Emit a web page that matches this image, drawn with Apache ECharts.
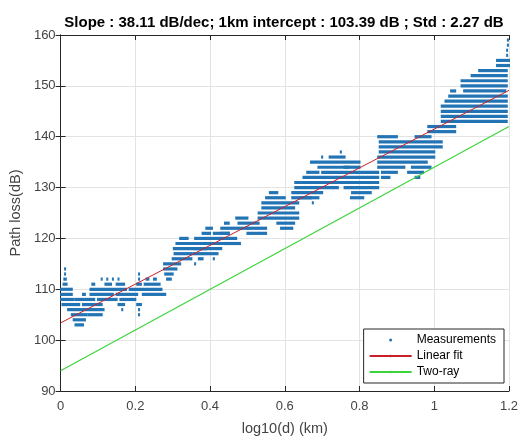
<!DOCTYPE html>
<html>
<head>
<meta charset="utf-8">
<script src="https://cdn.jsdelivr.net/npm/echarts@6/dist/echarts.min.js"></script>
<style>html,body{margin:0;padding:0;background:#fff;}#c{width:529px;height:441px;}</style>
</head>
<body>
<div id="c"></div>
<script>
// ---- data ----
const titleText = 'Slope : 38.11 dB/dec; 1km intercept : 103.39 dB ; Std : 2.27 dB';
const xTicks = [0, 0.2, 0.4, 0.6, 0.8, 1, 1.2];
const yTicks = [90, 100, 110, 120, 130, 140, 150, 160];
// Measurements: horizontal runs of points [x start, x end, path loss dB]
const measLow = [
  [0.012,0.012,114],[0.012,0.012,113],[0.01,0.014,112],[0.008,0.016,111],
  [0.0,0.03,110],[0.0,0.03,109],[0.0,0.035,108],[0.005,0.05,107],
  [0.06,0.09,107],[0.02,0.1,106],[0.03,0.07,105],[0.075,0.11,105],[0.035,0.065,104],[0.04,0.06,103],
  [0.06,0.065,109],[0.04,0.09,108],[0.095,0.11,107],[0.105,0.115,106],
  [0.08,0.175,110],[0.185,0.27,110],[0.08,0.14,109],[0.15,0.205,109],[0.22,0.28,109],
  [0.1,0.15,108],[0.16,0.2,108],
  [0.11,0.11,112],[0.125,0.125,112],[0.14,0.14,112],[0.155,0.155,112],[0.085,0.09,111],[0.12,0.135,111],[0.15,0.17,111],
  [0.155,0.17,107],[0.165,0.165,106],
  [0.21,0.21,113],[0.21,0.21,112],[0.205,0.215,111],[0.205,0.215,107],[0.21,0.21,106],[0.21,0.21,105],
  [0.23,0.235,112],[0.25,0.255,112],[0.225,0.265,111],
  [0.277,0.32,115],[0.36,0.36,115],[0.277,0.31,114],[0.28,0.3,113],[0.285,0.295,112],
  [0.303,0.39,118],[0.36,0.43,118],[0.305,0.35,117],[0.355,0.42,117],[0.3,0.35,116],[0.37,0.38,116],[0.41,0.41,116],
  [0.31,0.44,119],[0.32,0.34,120],[0.36,0.43,120],[0.38,0.4,121],[0.41,0.45,121],[0.39,0.405,122]
];
const measMid = [
  [0.43,0.5,122],[0.5,0.55,122],[0.43,0.45,121],[0.5,0.55,121],[0.43,0.47,120],[0.44,0.48,119],
  [0.44,0.45,123],[0.476,0.53,123],[0.58,0.625,123],[0.47,0.5,124],[0.53,0.636,124],
  [0.53,0.636,125],[0.54,0.625,126],[0.54,0.636,127],[0.675,0.675,127],[0.55,0.6,128],[0.62,0.67,128],[0.56,0.58,129],
  [0.628,0.742,131],[0.628,0.742,130],[0.62,0.7,129],[0.64,0.69,128],[0.59,0.62,122],
  [0.66,0.69,133],[0.7,0.85,133],[0.65,0.85,132],[0.69,0.77,134],[0.76,0.8,134],[0.67,0.8,135],
  [0.7,0.7,136],[0.72,0.76,136],[0.75,0.75,137],
  [0.742,0.85,131],[0.76,0.85,130],[0.78,0.83,129],[0.777,0.81,128]
];
const measHigh = [
  [0.85,0.9,140],[0.854,1.02,139],[0.854,1.02,138],[0.854,1.0,137],[0.85,1.0,136],[0.85,0.98,135],
  [0.85,0.92,134],[0.94,0.99,134],[0.86,0.9,133],[0.93,0.97,133],[0.86,0.88,132],[0.95,0.96,132],
  [0.984,1.056,142],[0.984,1.056,141],[0.95,0.99,140],
  [1.02,1.194,143],[1.02,1.194,144],[1.02,1.194,145],[1.02,1.194,146],[1.03,1.194,147],[1.04,1.194,148],
  [1.045,1.056,149],[1.08,1.19,149],
  [1.073,1.194,150],[1.073,1.194,151],[1.1,1.194,152],[1.12,1.194,153],[1.168,1.2,154],[1.168,1.2,155],
  [1.195,1.195,156],[1.195,1.195,157],[1.197,1.197,158],[1.197,1.197,159]
];
const fitX = [0, 1.2];
const fitY = [103.39, 149.12];
const twoRayX = [0, 1.2];
const twoRayY = [94.0, 142.0];

// ---- chart ----
const FONT = '"Liberation Sans", Arial, Helvetica, sans-serif';
const chart = echarts.init(document.getElementById('c'), null, {renderer: 'canvas'});
const measData = measLow.concat(measMid, measHigh);
const axisCol = '#262626';
const labelCol = '#444444';
const gridCol = '#e3e3e3';
function fmt(v){ return String(Math.round(v * 10) / 10); }

const option = {
  animation: false,
  backgroundColor: '#fff',
  textStyle: {fontFamily: FONT},
  graphic: [{
    type: 'text', x: 284, y: 23, z: 10,
    style: {text: titleText, align: 'center', verticalAlign: 'middle',
            font: 'bold 15px ' + FONT, fill: '#000'}
  }],
  grid: {left: 58, right: 20, top: 35, bottom: 45},
  legend: {
    orient: 'vertical', right: 25, bottom: 58,
    backgroundColor: '#fff', borderColor: axisCol, borderWidth: 1,
    padding: [5, 8, 5, 5], itemWidth: 42, itemHeight: 3, itemGap: 4,
    textStyle: {fontSize: 12, color: '#000', fontFamily: FONT},
    data: [{name: 'Measurements', icon: 'circle'}, {name: 'Linear fit'}, {name: 'Two-ray'}]
  },
  xAxis: [{
    type: 'value', min: 0, max: 1.2, interval: 0.2, position: 'bottom',
    name: 'log10(d) (km)', nameLocation: 'middle', nameGap: 30,
    nameTextStyle: {fontSize: 14.5, color: labelCol, fontFamily: FONT},
    axisLine: {show: true, lineStyle: {color: axisCol, width: 1}},
    axisTick: {show: true, inside: true, length: 5, lineStyle: {color: axisCol}},
    axisLabel: {fontSize: 13, color: labelCol, margin: 9, formatter: fmt, fontFamily: FONT},
    splitLine: {show: true, lineStyle: {color: gridCol, width: 1}}
  }, {
    type: 'value', min: 0, max: 1.2, interval: 0.2, position: 'top',
    axisLine: {show: true, lineStyle: {color: axisCol, width: 1}},
    axisTick: {show: true, inside: true, length: 5, lineStyle: {color: axisCol}},
    axisLabel: {show: false}, splitLine: {show: false}
  }],
  yAxis: [{
    type: 'value', min: 90, max: 160, interval: 10, position: 'left',
    name: 'Path loss(dB)', nameLocation: 'middle', nameGap: 29,
    nameTextStyle: {fontSize: 14.5, color: labelCol, fontFamily: FONT},
    axisLine: {show: true, lineStyle: {color: axisCol, width: 1}},
    axisTick: {show: true, inside: true, length: 5, lineStyle: {color: axisCol}},
    axisLabel: {fontSize: 13, color: labelCol, margin: 5, fontFamily: FONT},
    splitLine: {show: true, lineStyle: {color: gridCol, width: 1}}
  }, {
    type: 'value', min: 90, max: 160, interval: 10, position: 'right',
    axisLine: {show: true, lineStyle: {color: axisCol, width: 1}},
    axisTick: {show: true, inside: true, length: 5, lineStyle: {color: axisCol}},
    axisLabel: {show: false}, splitLine: {show: false}
  }],
  series: [{
    name: 'Measurements', type: 'custom', clip: true,
    itemStyle: {color: '#2374b4'},
    encode: {x: [0, 1], y: 2},
    data: measData,
    renderItem: function (params, api) {
      const p0 = api.coord([api.value(0), api.value(2)]);
      const p1 = api.coord([api.value(1), api.value(2)]);
      const h = 3.2;
      return {
        type: 'rect',
        shape: {x: p0[0] - 1, y: p0[1] - h / 2, width: Math.max(p1[0] - p0[0], 0) + 2, height: h},
        style: {fill: api.visual('color')}
      };
    }
  }, {
    name: 'Linear fit', type: 'line', symbol: 'none', showSymbol: false,
    data: fitX.map((x, i) => [x, fitY[i]]),
    lineStyle: {color: '#c8202a', width: 1}, itemStyle: {color: '#c8202a'}, z: 5
  }, {
    name: 'Two-ray', type: 'line', symbol: 'none', showSymbol: false,
    data: twoRayX.map((x, i) => [x, twoRayY[i]]),
    lineStyle: {color: '#3cd43c', width: 1.2}, itemStyle: {color: '#3cd43c'}, z: 5
  }]
};
chart.setOption(option);
</script>
</body>
</html>
